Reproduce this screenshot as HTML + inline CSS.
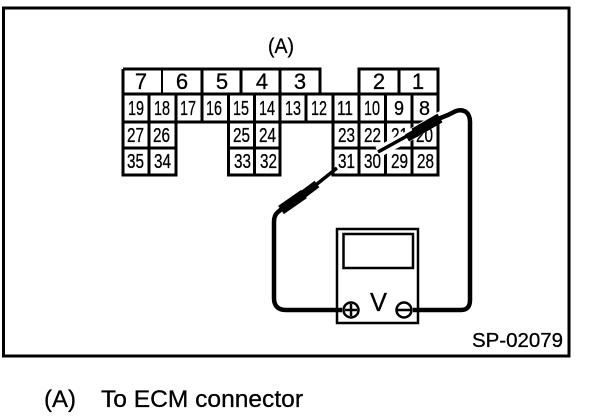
<!DOCTYPE html>
<html><head><meta charset="utf-8"><style>
html,body{margin:0;padding:0;background:#fff}
svg{display:block}
text{font-family:"Liberation Sans",sans-serif;fill:#000;stroke:#000;stroke-width:.3}
.t{font-size:22px;text-anchor:middle}
.n{font-size:20px}
</style></head><body>
<svg width="608" height="418" viewBox="0 0 608 418" xmlns="http://www.w3.org/2000/svg">
<rect x="3.500" y="8" width="565.500" height="348" fill="none" stroke="#000" stroke-width="3"/>
<g fill="none" stroke="#000" stroke-width="3" shape-rendering="crispEdges">
<path d="M123 69H320V94M359 94V69H438V175H333V122M123 69V175H176V94M228.500 94V175H280V94"/>
<path d="M123 94H438M123 122H438M123 148H176M229 148H280M333 148H438"/>
<path d="M149 94V175M202 69V122M241 69V94M280 69V122M306 94V122M333 94V175M359 94V175M385.500 94V175M412 94V175M399 69V94M254.500 94V175"/>
<path d="M162 69V94" stroke-width="2"/>
</g>
<g>
<text class="t" x="141" y="89">7</text><text class="t" x="182" y="89">6</text><text class="t" x="222" y="89">5</text><text class="t" x="262" y="89">4</text><text class="t" x="300" y="89">3</text><text class="t" x="379" y="89">2</text><text class="t" x="418" y="89">1</text>
</g>
<g>
<text class="n" x="128" y="115" textLength="16" lengthAdjust="spacingAndGlyphs">19</text>
<text class="n" x="154" y="115" textLength="16" lengthAdjust="spacingAndGlyphs">18</text>
<text class="n" x="180" y="115" textLength="16" lengthAdjust="spacingAndGlyphs">17</text>
<text class="n" x="206" y="115" textLength="16" lengthAdjust="spacingAndGlyphs">16</text>
<text class="n" x="233" y="115" textLength="16" lengthAdjust="spacingAndGlyphs">15</text>
<text class="n" x="259" y="115" textLength="16" lengthAdjust="spacingAndGlyphs">14</text>
<text class="n" x="285" y="115" textLength="16" lengthAdjust="spacingAndGlyphs">13</text>
<text class="n" x="311" y="115" textLength="16" lengthAdjust="spacingAndGlyphs">12</text>
<text class="n" x="337" y="115" textLength="16" lengthAdjust="spacingAndGlyphs">11</text>
<text class="n" x="364" y="115" textLength="16" lengthAdjust="spacingAndGlyphs">10</text>
<text class="n" x="394" y="115" textLength="10" lengthAdjust="spacingAndGlyphs">9</text>
<text class="n" x="419" y="115" textLength="11" lengthAdjust="spacingAndGlyphs">8</text>
<text class="n" x="127" y="142" textLength="17" lengthAdjust="spacingAndGlyphs">27</text>
<text class="n" x="153" y="142" textLength="17" lengthAdjust="spacingAndGlyphs">26</text>
<text class="n" x="233" y="142" textLength="17" lengthAdjust="spacingAndGlyphs">25</text>
<text class="n" x="259" y="142" textLength="17" lengthAdjust="spacingAndGlyphs">24</text>
<text class="n" x="338" y="142" textLength="17" lengthAdjust="spacingAndGlyphs">23</text>
<text class="n" x="364" y="142" textLength="17" lengthAdjust="spacingAndGlyphs">22</text>
<text class="n" x="391" y="142" textLength="17" lengthAdjust="spacingAndGlyphs">21</text>
<text class="n" x="416" y="142" textLength="17" lengthAdjust="spacingAndGlyphs">20</text>
<text class="n" x="127" y="168" textLength="17" lengthAdjust="spacingAndGlyphs">35</text>
<text class="n" x="154" y="168" textLength="17" lengthAdjust="spacingAndGlyphs">34</text>
<text class="n" x="234" y="168" textLength="17" lengthAdjust="spacingAndGlyphs">33</text>
<text class="n" x="260" y="168" textLength="17" lengthAdjust="spacingAndGlyphs">32</text>
<text class="n" x="338" y="168" textLength="17" lengthAdjust="spacingAndGlyphs">31</text>
<text class="n" x="364" y="168" textLength="17" lengthAdjust="spacingAndGlyphs">30</text>
<text class="n" x="391" y="168" textLength="17" lengthAdjust="spacingAndGlyphs">29</text>
<text class="n" x="417" y="168" textLength="17" lengthAdjust="spacingAndGlyphs">28</text>
</g>
<path d="M176 94V122" stroke="#000" stroke-width="3" shape-rendering="crispEdges"/>
<text x="268" y="53" style="font-size:21px" textLength="26" lengthAdjust="spacingAndGlyphs">(A)</text>
<!-- probes -->
<path d="M378 152L407 137L442 116" stroke="#fff" stroke-width="11" fill="none"/>
<path d="M378 152L407 136" stroke="#000" stroke-width="3.500" fill="none"/>
<path d="M407 138L424 128" stroke="#000" stroke-width="8" fill="none"/>
<path d="M414 133L440 118" stroke="#000" stroke-width="10" fill="none"/>
<path d="M337 168L312 188" stroke="#000" stroke-width="3.500" fill="none"/>
<path d="M317 184L301 196" stroke="#000" stroke-width="8" fill="none"/>
<path d="M304 194L281 210" stroke="#000" stroke-width="10" fill="none"/>
<!-- wires -->
<path d="M438 119L448 115L456 111Q462 109 466 112Q470 115 470 122V300Q470 310 461 310H413" fill="none" stroke="#000" stroke-width="4.500"/>
<path d="M284 207L278 212Q274 215 274 222V298Q274 310 286 310H342" fill="none" stroke="#000" stroke-width="4.500"/>
<!-- meter -->
<rect x="337" y="229" width="81" height="94" fill="none" stroke="#000" stroke-width="2.500"/>
<rect x="343.500" y="234" width="69.500" height="34" fill="none" stroke="#000" stroke-width="2.500"/>
<circle cx="351" cy="310" r="7.500" fill="#fff" stroke="#000" stroke-width="2.500"/>
<path d="M345 310H357M351 304V316" stroke="#000" stroke-width="2.500"/>
<circle cx="404" cy="310" r="7.500" fill="#fff" stroke="#000" stroke-width="2.500"/>
<path d="M397 310H411" stroke="#000" stroke-width="2.500"/>
<text x="370" y="311" style="font-size:26px" textLength="17" lengthAdjust="spacingAndGlyphs">V</text>
<text x="472" y="347" style="font-size:20px" textLength="91" lengthAdjust="spacingAndGlyphs">SP-02079</text>
<text x="44" y="407" style="font-size:24px" textLength="32" lengthAdjust="spacingAndGlyphs">(A)</text>
<text x="101" y="407" style="font-size:24px" textLength="202" lengthAdjust="spacingAndGlyphs">To ECM connector</text>
</svg>
</body></html>
